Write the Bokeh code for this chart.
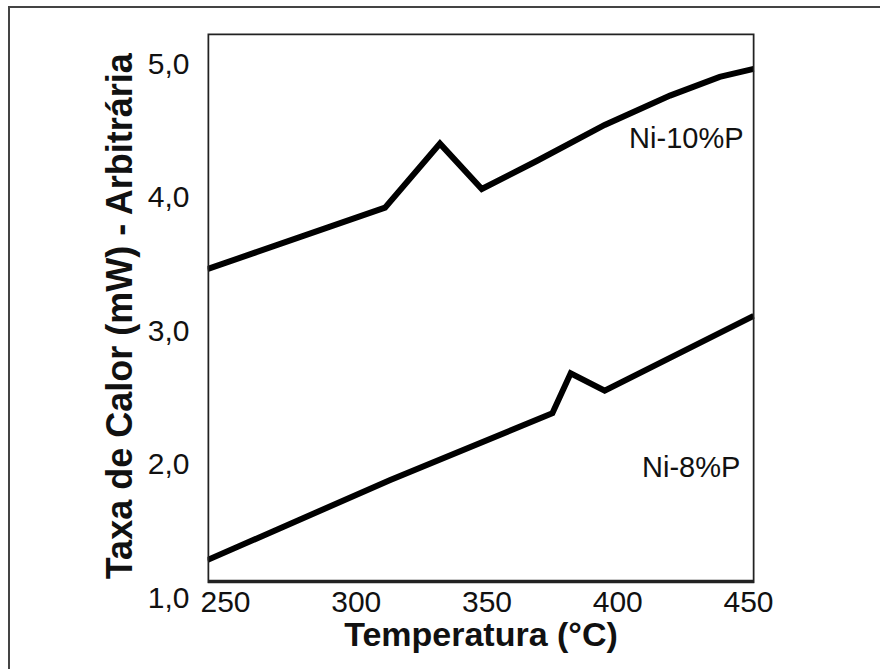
from bokeh.plotting import figure
from bokeh.models import Range1d, FixedTicker, CustomJSTickFormatter, Label, BoxAnnotation
from bokeh.embed import file_html
from bokeh.resources import INLINE

# Data
temp_10 = [243, 311, 332, 348, 369, 395, 420, 439, 452]
rate_10 = [3.46, 3.92, 4.40, 4.06, 4.27, 4.54, 4.76, 4.90, 4.96]
temp_8 = [243, 313, 375, 382, 395, 452]
rate_8 = [1.28, 1.88, 2.38, 2.68, 2.55, 3.11]
x_ticks = [250, 300, 350, 400, 450]
y_ticks = [1.0, 2.0, 3.0, 4.0, 5.0]

FONT = "Liberation Sans"
X0, X1 = 243.1, 452.3
Y0, Y1 = 1.0, 5.225
BOX_BOTTOM = 1.12

p = figure(width=872, height=663, output_backend="svg", toolbar_location=None,
           x_range=Range1d(X0, X1), y_range=Range1d(Y0, Y1),
           min_border_left=199, min_border_right=126, min_border_top=27, min_border_bottom=72)
p.styles = {"margin-left": "8px", "margin-top": "6px",
            "background": "linear-gradient(#444444, #444444) 0 0 / 100% 2px no-repeat, "
                          "linear-gradient(#444444, #444444) 0 0 / 2px 100% no-repeat"}
p.border_fill_color = None
p.background_fill_color = "white"

p.grid.visible = False
p.outline_line_color = None

p.add_layout(BoxAnnotation(left=X0, right=X1, bottom=BOX_BOTTOM, top=Y1,
                           fill_alpha=0, line_color="#222222", line_alpha=1.0, line_width=3.5))

p.line(temp_10, rate_10, line_color="black", line_width=6, line_join="miter")
p.line(temp_8, rate_8, line_color="black", line_width=6, line_join="miter")

for ax in (p.xaxis[0], p.yaxis[0]):
    ax.axis_line_color = None
    ax.major_tick_line_color = None
    ax.minor_tick_line_color = None
    ax.major_label_text_font = FONT
    ax.major_label_text_font_size = "30px"
    ax.major_label_text_color = "#111111"
    ax.axis_label_text_font = FONT
    ax.axis_label_text_font_style = "bold"
    ax.axis_label_text_color = "#111111"

p.xaxis.axis_label_text_font_size = "34px"
p.yaxis.axis_label_text_font_size = "36px"
p.xaxis.ticker = FixedTicker(ticks=x_ticks)
p.yaxis.ticker = FixedTicker(ticks=y_ticks)
p.yaxis.formatter = CustomJSTickFormatter(code="return tick.toFixed(1).replace('.', ',');")
p.xaxis.major_label_standoff = -12
p.yaxis.major_label_standoff = 12
p.xaxis.axis_label = "Temperatura (°C)"
p.yaxis.axis_label = "Taxa de Calor (mW) - Arbitrária"
p.xaxis.axis_label_standoff = 0
p.yaxis.axis_label_standoff = 5

p.add_layout(Label(x=448.1, y=4.44, text="Ni-10%P", text_align="right", text_baseline="middle",
                   text_font=FONT, text_font_size="29px", text_color="#111111"))
p.add_layout(Label(x=446.9, y=1.98, text="Ni-8%P", text_align="right", text_baseline="middle",
                   text_font=FONT, text_font_size="29px", text_color="#111111"))

open("out.html", "w").write(file_html(p, INLINE))
